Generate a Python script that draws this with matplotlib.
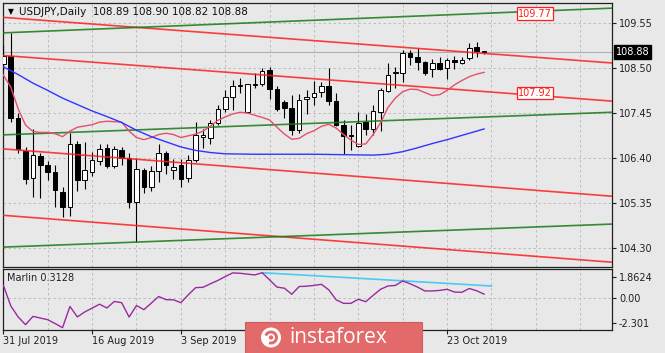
''' USDJPY daily chart with Marlin oscillator '''
import numpy as np
import matplotlib
matplotlib.use('Agg')
import matplotlib.pyplot as plt
from matplotlib.patches import Rectangle, Circle, Wedge
from matplotlib.transforms import blended_transform_factory

# daily candles, 31 Jul 2019 .. 30 Oct 2019
opens = [108.60, 108.78, 107.33, 106.56, 105.94, 106.45, 106.25, 106.08, 105.61, 105.26,
         106.72, 105.89, 106.08, 106.33, 106.63, 106.22, 106.59, 106.41, 105.38, 106.12,
         105.73, 106.10, 106.51, 106.12, 106.24, 105.93, 106.35, 106.90, 106.87, 107.23,
         107.54, 107.83, 108.09, 107.48, 108.11, 108.12, 108.45, 108.01, 107.71, 107.57,
         107.05, 107.78, 107.82, 107.95, 108.08, 107.73, 107.17, 106.95, 106.68, 107.25,
         107.08, 107.48, 107.96, 108.38, 108.39, 108.86, 108.75, 108.65, 108.47, 108.61,
         108.51, 108.70, 108.62, 108.73, 109.00, 108.89]
highs = [109.04, 109.33, 107.45, 106.66, 107.09, 106.53, 106.33, 106.24, 105.72, 106.98,
         106.80, 106.78, 106.55, 106.72, 106.72, 106.69, 106.66, 106.53, 106.41, 106.17,
         106.22, 106.72, 106.56, 106.39, 106.39, 106.47, 107.25, 107.09, 107.29, 107.64,
         107.99, 108.22, 108.27, 108.14, 108.38, 108.51, 108.53, 108.09, 107.75, 107.87,
         107.89, 107.99, 108.20, 108.18, 108.51, 107.91, 107.29, 107.17, 107.47, 107.44,
         107.64, 108.04, 108.63, 108.53, 108.92, 108.92, 108.96, 108.66, 108.71, 108.75,
         108.73, 108.79, 108.76, 109.08, 109.11, 108.90]
lows = [108.45, 107.25, 106.51, 105.79, 105.50, 105.48, 105.89, 105.26, 105.03, 105.05,
        105.64, 105.69, 105.99, 106.24, 106.16, 106.16, 106.24, 105.24, 104.45, 105.59,
        105.64, 105.85, 106.03, 105.91, 105.73, 105.85, 106.31, 106.63, 106.74, 107.17,
        107.48, 107.52, 107.91, 107.47, 108.03, 108.09, 107.79, 107.50, 107.33, 106.95,
        106.99, 107.42, 107.65, 107.83, 107.64, 107.15, 106.49, 106.59, 106.66, 106.94,
        106.94, 107.03, 107.95, 108.03, 108.17, 108.57, 108.45, 108.35, 108.30, 108.45,
        108.24, 108.49, 108.59, 108.70, 108.76, 108.82]
closes = [108.78, 107.34, 106.61, 105.91, 106.47, 106.24, 106.07, 105.65, 105.26, 106.72,
          105.89, 106.12, 106.35, 106.61, 106.22, 106.61, 106.41, 105.38, 106.14, 105.73,
          106.10, 106.51, 106.24, 106.20, 105.91, 106.35, 106.94, 106.93, 107.23, 107.54,
          107.83, 108.09, 108.10, 108.12, 108.12, 108.43, 108.01, 107.54, 107.56, 107.05,
          107.75, 107.83, 107.93, 108.08, 107.73, 107.17, 106.91, 106.92, 107.23, 107.08,
          107.50, 107.99, 108.34, 108.40, 108.86, 108.76, 108.65, 108.38, 108.61, 108.47,
          108.70, 108.65, 108.69, 108.97, 108.90, 108.88]

# moving averages
red_ma = [108.34, 108.06, 107.55, 107.17, 107.02, 107.00, 107.00, 106.97, 106.90, 107.03,
          107.12, 107.15, 107.18, 107.24, 107.26, 107.25, 107.24, 107.03, 106.88, 106.83,
          106.88, 106.95, 106.98, 106.95, 106.88, 106.92, 106.96, 107.03, 107.15, 107.28,
          107.36, 107.43, 107.47, 107.45, 107.40, 107.35, 107.29, 107.12, 106.96, 106.84,
          106.86, 106.97, 107.04, 107.14, 107.19, 107.10, 106.95, 106.82, 106.72, 106.73,
          106.95, 107.22, 107.58, 107.80, 107.95, 108.01, 108.00, 107.93, 107.86, 107.88,
          107.98, 108.11, 108.21, 108.30, 108.36, 108.40]
blue_idx = [0, 2, 4, 6, 8, 10, 12, 14, 16, 18, 20, 22, 24, 26, 28, 30, 34, 38, 42,
            46, 50, 52, 54, 56, 58, 60, 62, 64, 65]
blue_ma = [108.53, 108.35, 108.15, 107.98, 107.80, 107.65, 107.50, 107.37, 107.23, 107.05,
           106.90, 106.78, 106.66, 106.58, 106.53, 106.50, 106.49, 106.49, 106.49,
           106.48, 106.47, 106.49, 106.55, 106.64, 106.74, 106.83, 106.93, 107.03, 107.08]

# trend channels (bar index at both ends, price at both ends)
chan_x = [-0.4, 82.3]
red_lines = [[109.69, 108.62], [108.80, 107.73], [106.62, 105.51], [105.07, 103.97]]
green_lines = [[109.32, 109.90], [106.94, 107.47], [104.32, 104.86]]
level_labels = [109.77, 107.92]

# Marlin oscillator
marlin = [1.11, -0.75, -1.75, -2.45, -1.70, -1.85, -2.00, -2.35, -2.72, -0.80,
          -1.75, -1.30, -0.95, -0.60, -0.94, -0.35, -0.46, -1.76, -0.72, -1.09,
          -0.50, 0.10, -0.19, -0.20, -0.46, 0.25, 0.90, 0.93, 1.25, 1.55,
          1.90, 2.23, 2.20, 2.12, 2.05, 2.25, 1.60, 0.95, 0.85, 0.30,
          1.00, 1.03, 1.10, 1.20, 0.70, -0.20, -0.52, -0.52, -0.15, -0.37,
          0.20, 0.75, 1.05, 1.10, 1.50, 1.25, 0.95, 0.60, 0.60, 0.65,
          0.75, 0.50, 0.48, 0.82, 0.62, 0.31]
marlin_trend_x = [35, 66]
marlin_trend_y = [2.25, 1.05]

price_ticks = [104.30, 105.35, 106.40, 107.45, 108.50, 109.55]
marlin_ticks = [-2.301, 0.0, 1.8624]
marlin_tick_labels = ['-2.301', '0.00', '1.8624']
date_idx = [0, 12, 24, 60]
date_labels = ['31 Jul 2019', '16 Aug 2019', '3 Sep 2019', '23 Oct 2019']
last_price = 108.88

BG = '#e8e8e8'
GRID = '#b8b8b8'
W, H = 665, 353


def frac(x0, y0, x1, y1):
    ''' pixel box -> figure fraction rect '''
    return [x0 / W, 1 - y1 / H, (x1 - x0) / W, (y1 - y0) / H]


def style_axes(ax):
    ax.set_facecolor(BG)
    for s in ax.spines.values():
        s.set_color('#202020')
        s.set_linewidth(0.9)
    ax.yaxis.tick_right()
    ax.tick_params(axis='y', length=3, width=0.8, pad=2, labelsize=7,
                   colors='#202020', direction='out')


def draw_price(ax):
    style_axes(ax)
    n = len(opens)
    x = np.arange(n)
    o = np.array(opens)
    c = np.array(closes)

    for gx in range(6, 80, 6):
        ax.axvline(gx, color=GRID, lw=0.6, ls=(0, (3, 3)), zorder=0)
    for p in price_ticks:
        ax.axhline(p, color=GRID, lw=0.6, ls=(0, (3, 3)), zorder=0)
    ax.axhline(last_price, color='#b0b0b0', lw=0.8, zorder=1)

    ax.vlines(x, lows, highs, color='black', lw=0.8, zorder=3)
    colors = np.where(c >= o, 'white', 'black')
    ax.bar(x, np.maximum(np.abs(c - o), 0.012), bottom=np.minimum(o, c),
           width=0.62, color=colors, edgecolor='black', lw=0.7, zorder=4)

    for ys in red_lines:
        ax.plot(chan_x, ys, color='#ff1e1e', lw=1.2, alpha=0.85, zorder=5)
    for ys in green_lines:
        ax.plot(chan_x, ys, color='#157a15', lw=1.2, alpha=0.85, zorder=5)

    ax.plot(x, red_ma, color='#e4506c', lw=1.0, zorder=6)
    ax.plot(blue_idx, blue_ma, color='#2e36ff', lw=1.0, zorder=6)

    for lv in level_labels:
        ax.text(71.9, lv, f'{lv:.2f}', color='#ff1e1e', fontsize=7,
                ha='center', va='center', zorder=8,
                bbox=dict(boxstyle='square,pad=0.15', fc='white',
                          ec='#ff1e1e', lw=0.9))

    ax.set_xlim(-0.05, 82.3)
    ax.set_ylim(103.87, 110.02)
    ax.set_xticks([])
    ax.set_yticks(price_ticks)
    ax.set_yticklabels([f'{p:.2f}' for p in price_ticks])

    tr = blended_transform_factory(ax.transAxes, ax.transData)
    ax.text(1.006, last_price, f'{last_price:.2f}', transform=tr, color='white',
            fontsize=7, ha='left', va='center', zorder=9, clip_on=False,
            bbox=dict(boxstyle='square,pad=0.2', fc='black', ec='black'))
    ax.text(0.008, 0.967, '\u25bc', transform=ax.transAxes, fontsize=5.5,
            ha='left', va='center')
    ax.text(0.027, 0.967, 'USDJPY,Daily  108.89 108.90 108.82 108.88',
            transform=ax.transAxes, fontsize=7.5, ha='left', va='center',
            color='#101010')


def draw_marlin(ax):
    style_axes(ax)
    for gx in range(6, 80, 6):
        ax.axvline(gx, color=GRID, lw=0.6, ls=(0, (3, 3)), zorder=0)
    ax.axhline(0, color=GRID, lw=0.6, ls=(0, (3, 3)), zorder=0)
    ax.plot(np.arange(len(marlin)), marlin, color='#9a2a9e', lw=1.0, zorder=3)
    ax.plot(marlin_trend_x, marlin_trend_y, color='#4cc8f4', lw=1.2, zorder=2)
    ax.set_xlim(-0.05, 82.3)
    ax.set_ylim(-2.93, 2.63)
    ax.set_yticks(marlin_ticks)
    ax.set_yticklabels(marlin_tick_labels)
    ax.set_xticks(date_idx)
    ax.set_xticklabels(date_labels, ha='left')
    ax.tick_params(axis='x', length=3, width=0.8, pad=1, labelsize=7,
                   colors='#202020', direction='out')
    ax.text(0.007, 0.84, 'Marlin 0.3128', transform=ax.transAxes, fontsize=7,
            ha='left', va='center', color='#202020')


def draw_watermark(fig):
    ov = fig.add_axes([0, 0, 1, 1], zorder=20)
    ov.set_xlim(0, W)
    ov.set_ylim(H, 0)
    ov.axis('off')
    ov.patch.set_alpha(0)
    ov.add_patch(Rectangle((245, 322), 177, 32, fc='#e36a6a', ec='#d25a5a', lw=0.8))
    ov.add_patch(Circle((271, 337.5), 10, fc='white', ec='none'))
    ov.add_patch(Wedge((271, 337.5), 7, 200, 470, width=3, fc='#e36a6a', ec='none'))
    ov.add_patch(Circle((271, 337.5), 2.2, fc='#e36a6a', ec='none'))
    ov.text(289, 337.5, 'instaforex', color='white', fontsize=15,
            family='Open Sans', ha='left', va='center')


def main():
    fig = plt.figure(figsize=(W / 100, H / 100), dpi=100)
    fig.patch.set_facecolor(BG)
    ax_price = fig.add_axes(frac(3, 3, 612, 266.5))
    ax_marlin = fig.add_axes(frac(3, 268.5, 612, 330))
    draw_price(ax_price)
    draw_marlin(ax_marlin)
    draw_watermark(fig)
    fig.savefig('out.png', dpi=100, facecolor=BG)


if __name__ == '__main__':
    main()
